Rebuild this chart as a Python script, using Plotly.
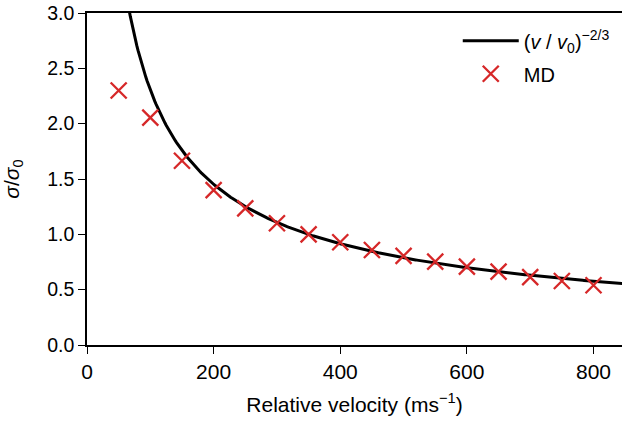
import numpy as np
import plotly.graph_objects as go

# MD data
md_velocity = [50, 100, 150, 200, 250, 300, 350, 400, 450, 500, 550, 600, 650, 700, 750, 800]
md_sigma = [2.30, 2.055, 1.665, 1.40, 1.235, 1.10, 1.00, 0.928, 0.858, 0.805, 0.753, 0.708, 0.663, 0.613, 0.578, 0.540]

# theory: (v/v0)^(-2/3)
v0 = 350.0
theory_v = np.linspace(40, 850, 400)
theory_sigma = (theory_v / v0) ** (-2.0 / 3.0)

x_ticks = [0, 200, 400, 600, 800]
y_ticks = [0.0, 0.5, 1.0, 1.5, 2.0, 2.5, 3.0]

FONT = "Liberation Sans, Arial, sans-serif"

fig = go.Figure()
fig.add_trace(go.Scatter(
    x=theory_v, y=theory_sigma, mode="lines",
    line=dict(color="black", width=3),
    name="(<i>v</i> / <i>v</i><sub>0</sub>)<sup>−2/3</sup>",
    legendgroup="a",
))
fig.add_trace(go.Scatter(
    x=md_velocity, y=md_sigma, mode="markers",
    marker=dict(symbol="x-thin", size=16, line=dict(color="#d62728", width=2.3), color="#d62728"),
    name="MD",
    legendgroup="b",
))

fig.update_layout(
    width=622, height=422,
    margin=dict(l=87, r=0, t=13, b=77),
    plot_bgcolor="white", paper_bgcolor="white",
    font=dict(family=FONT, size=20, color="black"),
    showlegend=True,
    legend=dict(x=0.693, y=0.975, xanchor="left", yanchor="top",
                bgcolor="rgba(0,0,0,0)", font=dict(size=20),
                itemwidth=56, tracegroupgap=4),
    xaxis=dict(
        range=[0, 845], tickvals=x_ticks, ticktext=[str(t) for t in x_ticks],
        showgrid=False, zeroline=False, showline=True, linecolor="black", linewidth=1.6,
        mirror=True, ticks="outside", ticklen=7, tickwidth=1.3, tickcolor="black",
        tickfont=dict(size=21),
        title=dict(text="Relative velocity (ms<sup>−1</sup>)", standoff=15, font=dict(size=21)),
    ),
    yaxis=dict(
        range=[0, 3.0], tickvals=y_ticks, ticktext=[f"{t:.1f}" for t in y_ticks],
        showgrid=False, zeroline=False, showline=True, linecolor="black", linewidth=1.6,
        ticks="outside", ticklen=7, tickwidth=1.3, tickcolor="black",
        tickfont=dict(size=19.5),
        title=dict(text="<i>σ</i>/<i>σ</i><sub>0</sub>", standoff=24, font=dict(size=21)),
    ),
)

fig.write_html("out.html", config={"displayModeBar": False},
               post_script="document.body.style.margin='0px';")
